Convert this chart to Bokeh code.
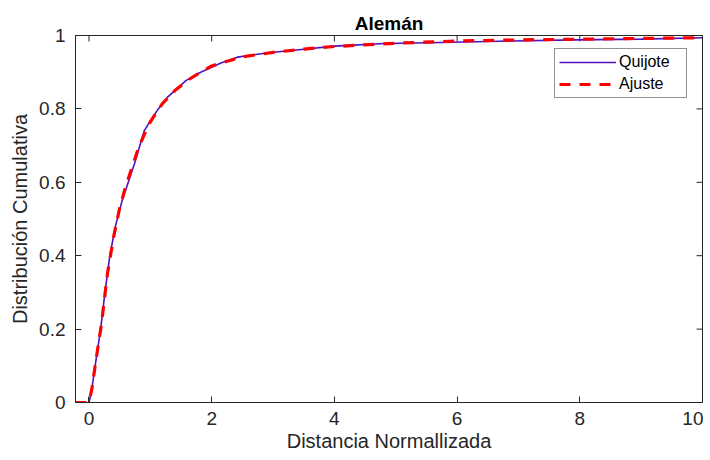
import math
from bokeh.plotting import figure
from bokeh.models import FixedTicker, Range1d, Legend, LegendItem
from bokeh.embed import file_html
from bokeh.resources import INLINE

title_text = "Alemán"
x_label = "Distancia Normallizada"
y_label = "Distribución Cumulativa"
x_min, x_max = -0.22, 10
y_min, y_max = 0, 1
x_ticks = [0, 2, 4, 6, 8, 10]
x_tick_labels = ["0", "2", "4", "6", "8", "10"]
y_ticks = [0, 0.2, 0.4, 0.6, 0.8, 1]
y_tick_labels = ["0", "0.2", "0.4", "0.6", "0.8", "1"]

quijote_x = [0.0, 0.04, 0.1, 0.19, 0.26, 0.34, 0.43, 0.54, 0.64, 0.74, 0.9, 1.01,
             1.13, 1.28, 1.58, 1.82, 2.15, 2.42, 2.92, 3.46, 4.0, 4.82, 5.75, 6.9,
             7.92, 9.0, 10.0]
quijote_y = [0.0, 0.03, 0.1, 0.2, 0.3, 0.4, 0.48, 0.55, 0.6, 0.65, 0.74, 0.77,
             0.8, 0.832, 0.877, 0.90, 0.925, 0.941, 0.953, 0.962, 0.971, 0.978, 0.981,
             0.985, 0.988, 0.99, 0.994]

ajuste_x = [-0.22, 0.0, 0.05, 0.1, 0.2, 0.3, 0.4, 0.5, 0.6, 0.7, 0.8, 0.9, 1.0, 1.2,
            1.4, 1.6, 1.8, 2.0, 2.5, 3.0, 3.5, 4.0, 5.0, 6.0, 7.0, 8.0, 9.0, 10.0]
ajuste_y = [0.0, 0.0, 0.04, 0.1, 0.21, 0.35, 0.45, 0.53, 0.59, 0.64, 0.69, 0.73, 0.765,
            0.815, 0.85, 0.877, 0.898, 0.917, 0.942, 0.954, 0.963, 0.97, 0.979, 0.985,
            0.988, 0.99, 0.992, 0.994]

FONT = "Liberation Sans"
AX = "#262626"

p = figure(width=703, height=460, output_backend="svg", toolbar_location=None,
           x_range=Range1d(x_min, x_max), y_range=Range1d(y_min, y_max),
           min_border_left=75, min_border_right=1, min_border_top=35,
           min_border_bottom=58)
p.xgrid.visible = False
p.ygrid.visible = False
p.outline_line_color = AX
p.outline_line_width = 1
p.background_fill_color = "white"
p.border_fill_color = "white"

p.title.text = title_text
p.title.align = "center"
p.title.text_font = FONT
p.title.text_font_size = "19px"
p.title.text_font_style = "bold"
p.title.text_color = "black"
p.title.standoff = 4


def style_axis(ax, ticks, labels):
    ax.ticker = FixedTicker(ticks=ticks)
    ax.major_label_overrides = {t: l for t, l in zip(ticks, labels)}
    ax.major_tick_in = 6
    ax.major_tick_out = 0
    ax.minor_tick_line_color = None
    ax.axis_line_color = AX
    ax.major_tick_line_color = AX
    ax.major_label_text_font = FONT
    ax.major_label_text_color = AX
    ax.major_label_text_font_size = "19px"
    ax.axis_label_text_font = FONT
    ax.axis_label_text_color = AX
    ax.axis_label_text_font_style = "normal"
    ax.axis_label_text_font_size = "20px"


xb = p.xaxis[0]
yl = p.yaxis[0]
style_axis(xb, x_ticks, x_tick_labels)
style_axis(yl, y_ticks, y_tick_labels)
xb.axis_label = x_label
xb.major_label_standoff = 9
xb.axis_label_standoff = 2
yl.axis_label = y_label
yl.major_label_standoff = 10
yl.axis_label_standoff = 5

# mirrored inward ticks on the top and right edges (MATLAB box style)
p.scatter(x_ticks, [y_max] * len(x_ticks), marker="dash", size=12,
          angle=math.pi / 2, line_color=AX, line_width=1)
p.scatter([x_max] * len(y_ticks), y_ticks, marker="dash", size=12,
          line_color=AX, line_width=1)

r1 = p.line(quijote_x, quijote_y, line_color="#5010c0", line_width=1.6)
r2 = p.line(ajuste_x, ajuste_y, line_color="#ff0000", line_width=3.2,
            line_dash="11 9")

legend = Legend(items=[LegendItem(label="Quijote", renderers=[r1]),
                       LegendItem(label="Ajuste", renderers=[r2])],
                location=(479, 304), padding=4, spacing=4, margin=0,
                glyph_width=57, glyph_height=18, label_height=18,
                label_width=63, label_standoff=3,
                label_text_font=FONT, label_text_font_size="16px",
                label_text_color="black",
                border_line_color=AX, border_line_width=1,
                background_fill_color="white", background_fill_alpha=1)
p.add_layout(legend)

open("out.html", "w").write(file_html(p, INLINE))
